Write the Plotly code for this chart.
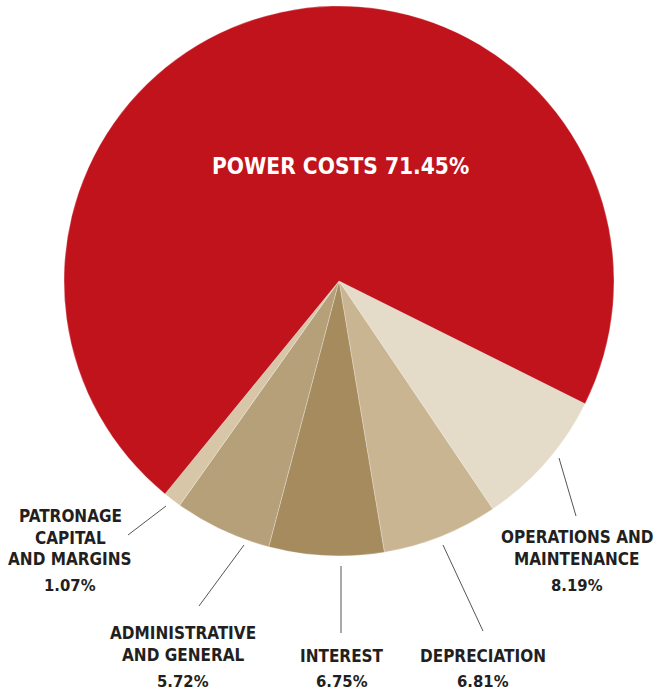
import plotly.graph_objects as go

# ---- data ----
categories = ["OPERATIONS AND MAINTENANCE", "DEPRECIATION", "INTEREST",
              "ADMINISTRATIVE AND GENERAL", "PATRONAGE CAPITAL AND MARGINS", "POWER COSTS"]
values = [8.19, 6.81, 6.75, 5.72, 1.07, 71.45]
label_lines = [["OPERATIONS AND", "MAINTENANCE"], ["DEPRECIATION"], ["INTEREST"],
               ["ADMINISTRATIVE", "AND GENERAL"], ["PATRONAGE", "CAPITAL", "AND MARGINS"], []]
colors = ["#E4DCC9", "#C9B592", "#A58B5E", "#B5A07A", "#D7C7A8", "#C1131C"]

# ---- layout helpers (pixel positions) ----
W, H = 655, 694
FONT = "DejaVu Sans Condensed, Liberation Sans Narrow, Arial Narrow, sans-serif"
TXT = "#231F20"

def px(x):
    return x / W

def py(y):
    return 1 - y / H

# label placement: (center x, first line y, line step, pct y)
label_pos = [(577, 537, 22, 585.5), (483, 655.5, 22, 681), (342, 655.5, 22, 681),
             (183.5, 633.3, 22, 681), (70, 516.3, 21.2, 585.5), None]
leaders = [((559, 458), (576, 516)), ((443, 545), (483, 631)), ((341, 566), (341, 633)),
           ((244, 545), (199, 606)), ((166, 506), (128, 535)), None]

cx, cy, r = 339, 281, 275

fig = go.Figure(go.Pie(
    labels=categories, values=values, sort=False, direction="clockwise", rotation=116.5,
    marker=dict(colors=colors, line=dict(color="rgba(255,255,255,0.45)", width=0.6)),
    textinfo="none", hoverinfo="label+percent", showlegend=False,
    domain=dict(x=[px(cx - r), px(cx + r)], y=[py(cy + r), py(cy - r)]),
))

annotations = []
shapes = []
for i, cat in enumerate(categories):
    pos = label_pos[i]
    if pos is None:
        continue
    x0, y0, step, ypct = pos
    for j, line in enumerate(label_lines[i]):
        annotations.append(dict(x=px(x0), y=py(y0 + j * step), xref="paper", yref="paper",
                                text="<b>%s</b>" % line, showarrow=False,
                                xanchor="center", yanchor="middle",
                                font=dict(family=FONT, size=17, color=TXT)))
    annotations.append(dict(x=px(x0), y=py(ypct), xref="paper", yref="paper",
                            text="<b>%.2f%%</b>" % values[i], showarrow=False,
                            xanchor="center", yanchor="middle",
                            font=dict(family=FONT, size=16.5, color=TXT)))
    (a, b), (c, d) = leaders[i]
    shapes.append(dict(type="line", xref="paper", yref="paper",
                       x0=px(a), y0=py(b), x1=px(c), y1=py(d),
                       line=dict(color="#555555", width=1)))

annotations.append(dict(x=px(340), y=py(166), xref="paper", yref="paper",
                        text="<b>POWER COSTS %.2f%%</b>" % values[-1], showarrow=False,
                        xanchor="center", yanchor="middle",
                        font=dict(family=FONT, size=22.5, color="white")))

fig.update_layout(width=W, height=H, margin=dict(l=0, r=0, t=0, b=0),
                  paper_bgcolor="white", plot_bgcolor="white",
                  annotations=annotations, shapes=shapes)

fig.write_html("out.html", config={"displayModeBar": False},
               post_script="document.body.style.margin='0';document.body.style.padding='0';")
